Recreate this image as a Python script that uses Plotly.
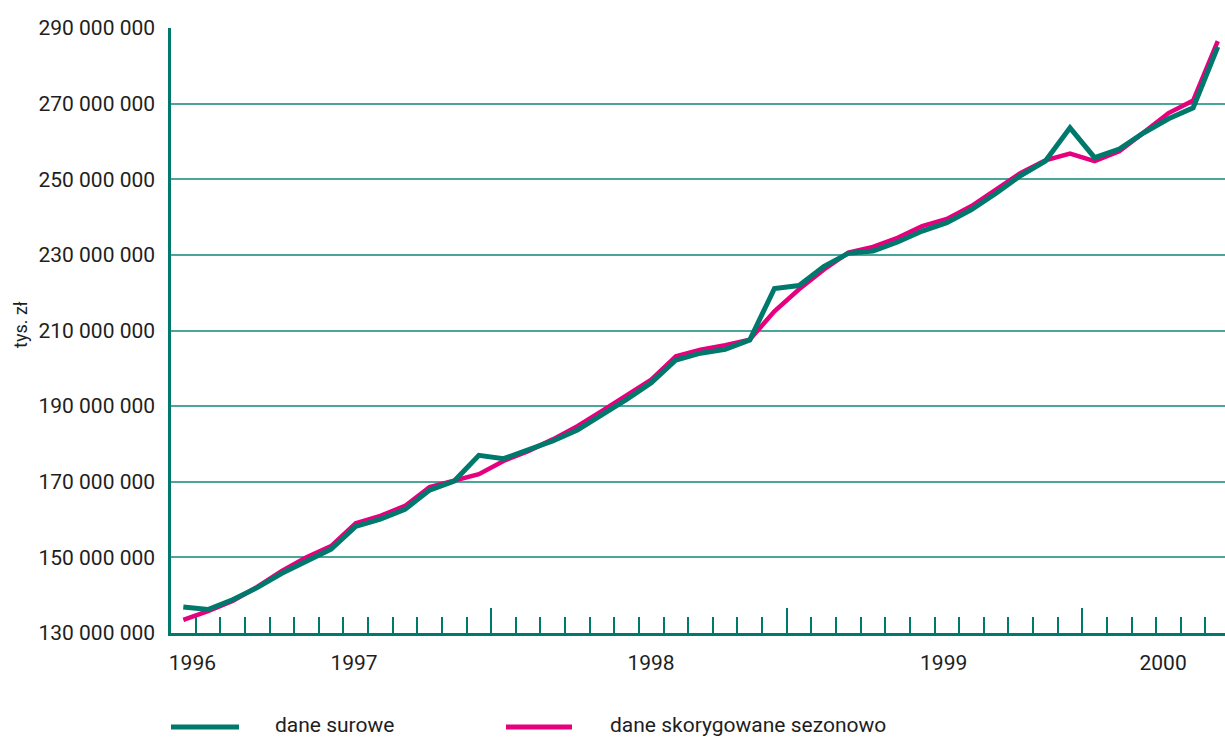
import plotly.graph_objects as go

# ---- data (values in PLN thousands) ----
period_index = list(range(43))  # monthly observations, left to right
raw_values_mln = [136.9, 136.2, 138.8, 142.0, 145.8, 149.1, 152.2, 158.2, 160.1, 162.7,
                  167.8, 170.2, 177.0, 176.1, 178.6, 180.8, 183.7, 187.6, 191.8, 196.2,
                  202.2, 204.0, 205.0, 207.5, 221.1, 221.9, 226.9, 230.4, 231.0, 233.4,
                  236.3, 238.5, 242.0, 246.3, 251.0, 254.8, 263.6, 255.7, 258.0, 262.3,
                  266.0, 268.9, 285.0]
sa_values_mln = [133.5, 135.8, 138.5, 142.2, 146.4, 150.0, 153.0, 159.0, 161.0, 163.6,
                 168.6, 170.4, 172.0, 175.5, 178.1, 181.2, 184.7, 188.7, 192.7, 197.0,
                 203.2, 204.9, 206.1, 207.6, 215.1, 220.9, 226.1, 230.6, 232.1, 234.5,
                 237.6, 239.5, 242.9, 247.4, 251.7, 255.0, 256.8, 254.8, 257.4, 262.4,
                 267.5, 270.8, 286.5]
raw_values = [v * 1e6 for v in raw_values_mln]
sa_values = [v * 1e6 for v in sa_values_mln]

year_labels = ["1996", "1997", "1998", "1999", "2000"]
year_label_pos = [0.37, 6.93, 18.99, 30.87, 39.78]
short_tick_pos = [k - 0.5 for k in range(1, 43) if k not in (13, 25, 37)]
tall_tick_pos = [12.5, 24.5, 36.5]
y_tick_vals = [130e6, 150e6, 170e6, 190e6, 210e6, 230e6, 250e6, 270e6, 290e6]
y_tick_text = ["130 000 000", "150 000 000", "170 000 000", "190 000 000", "210 000 000",
               "230 000 000", "250 000 000", "270 000 000", "290 000 000"]
series_names = ["dane surowe", "dane skorygowane sezonowo"]

GREEN = "#00796D"
PINK = "#E6007E"
AXIS = "#00796D"
GRID = "#4AA59B"
TXT = "#1e1e1e"
FONT = "Roboto, sans-serif"
FS = 21

fig = go.Figure()
fig.add_trace(go.Scatter(x=period_index, y=sa_values, mode="lines", name=series_names[1],
                         line=dict(color=PINK, width=4.5), showlegend=False))
fig.add_trace(go.Scatter(x=period_index, y=raw_values, mode="lines", name=series_names[0],
                         line=dict(color=GREEN, width=5), showlegend=False))
# invisible trace to carry the year labels axis
fig.add_trace(go.Scatter(x=[None], y=[None], xaxis="x2", showlegend=False, hoverinfo="skip"))

L, R, T, B = 171, 0, 28, 105
W, H = 1225, 738
pw, ph = W - L - R, H - T - B
x_max = -0.5 + pw / 24.63

fig.update_layout(
    width=W, height=H,
    margin=dict(l=L, r=R, t=T, b=B),
    plot_bgcolor="white", paper_bgcolor="white",
    font=dict(family=FONT, color=TXT, size=FS),
    xaxis=dict(range=[-0.5, x_max], showgrid=False, zeroline=False,
               showline=True, linecolor=AXIS, linewidth=3,
               ticks="inside", tickmode="array", tickvals=tall_tick_pos, ticklen=25,
               tickwidth=1.5, tickcolor=AXIS, showticklabels=False,
               minor=dict(tickmode="array", tickvals=short_tick_pos, ticks="inside",
                          ticklen=16, tickwidth=1.5, tickcolor=AXIS, showgrid=False)),
    xaxis2=dict(range=[-0.5, x_max], overlaying="x", anchor="y", side="bottom",
                showgrid=False, zeroline=False, showline=False, ticks="",
                tickmode="array", tickvals=year_label_pos, ticktext=year_labels,
                tickfont=dict(family=FONT, size=FS, color=TXT), ticklabelstandoff=15),
    yaxis=dict(range=[130e6, 290e6], tickmode="array", tickvals=y_tick_vals,
               ticktext=y_tick_text, showgrid=True, gridcolor=GRID, gridwidth=1.5,
               zeroline=False, showline=True, linecolor=AXIS, linewidth=2.5, ticks="",
               tickfont=dict(family=FONT, size=FS, color=TXT), ticklabelstandoff=9),
)

def px_x(p):
    return (p - L) / pw

def px_y(p):
    return (H - B - p) / ph

# y-axis title
fig.add_annotation(text="tys. zł", textangle=-90, xref="paper", yref="paper",
                   x=px_x(20), y=px_y(325), xanchor="center", yanchor="middle",
                   showarrow=False, font=dict(family=FONT, size=18, color=TXT))

# legend (drawn below the plot)
leg_y = px_y(727)
fig.add_shape(type="line", xref="paper", yref="paper", x0=px_x(171), x1=px_x(239),
              y0=leg_y, y1=leg_y, line=dict(color=GREEN, width=5))
fig.add_shape(type="line", xref="paper", yref="paper", x0=px_x(506), x1=px_x(572),
              y0=leg_y, y1=leg_y, line=dict(color=PINK, width=5))
fig.add_annotation(text=series_names[0], xref="paper", yref="paper", x=px_x(273), y=px_y(725),
                   xanchor="left", yanchor="middle", showarrow=False,
                   font=dict(family=FONT, size=FS, color=TXT))
fig.add_annotation(text=series_names[1], xref="paper", yref="paper", x=px_x(608), y=px_y(725),
                   xanchor="left", yanchor="middle", showarrow=False,
                   font=dict(family=FONT, size=FS, color=TXT))

fig.write_html("out.html", config={"displayModeBar": False},
               post_script="document.body.style.margin='0';document.body.style.padding='0';")
